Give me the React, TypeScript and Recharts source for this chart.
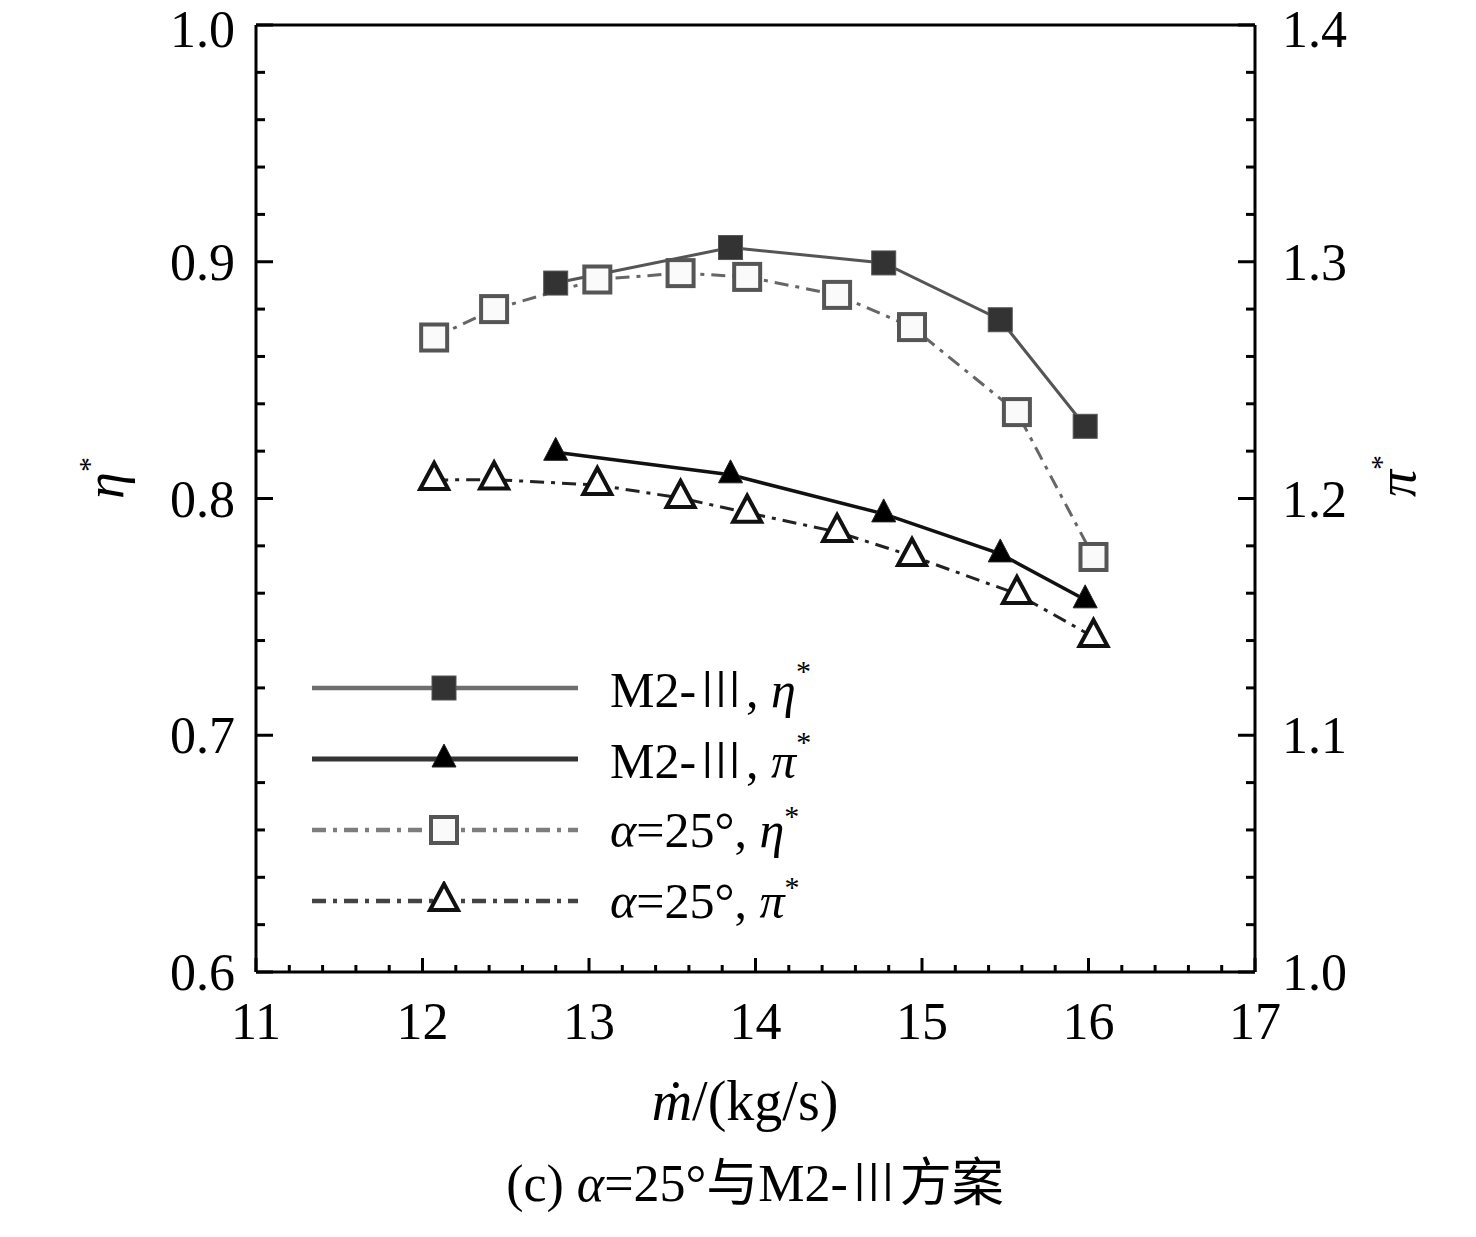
import React from 'react';
import { LineChart, Line, XAxis, YAxis, Legend, ReferenceLine } from 'recharts';

// mass flow (kg/s) and the two performance values
const m2Flow = [12.8, 13.85, 14.77, 15.47, 15.98];
const m2Eta = [0.891, 0.906, 0.8995, 0.8755, 0.8305];
const m2Pi = [1.2195, 1.21, 1.1935, 1.1766, 1.1572];

const a25Flow = [12.07, 12.43, 13.05, 13.55, 13.95, 14.49, 14.94, 15.57, 16.03];
const a25Eta = [0.868, 0.88, 0.8925, 0.8952, 0.8936, 0.886, 0.8724, 0.8365, 0.7753];
const a25Pi = [1.2078, 1.208, 1.2057, 1.2002, 1.194, 1.1859, 1.1757, 1.1597, 1.1415];

const xMajor = [11, 12, 13, 14, 15, 16, 17];
const etaMajor = [0.6, 0.7, 0.8, 0.9, 1.0];
const piMajor = [1.0, 1.1, 1.2, 1.3, 1.4];

const W = 1476;
const H = 1237;
const PLOT_LEFT = 256;
const PLOT_RIGHT = 1255;
const PLOT_TOP = 25;
const PLOT_BOTTOM = 972;

const SERIF = "'Liberation Serif', 'Times New Roman', 'Noto Sans CJK SC', serif";
const CJK = "'Noto Sans CJK SC', 'Noto Sans CJK JP', sans-serif";
const DASH_DOT = '14 7 4 7';
const TICK_FONT = 52;

const withMinor = (major: number[], steps: number) => {
  const out: number[] = [];
  for (let i = 0; i < major.length - 1; i++) {
    const step = (major[i + 1] - major[i]) / steps;
    for (let k = 0; k < steps; k++) out.push(+(major[i] + k * step).toFixed(4));
  }
  out.push(major[major.length - 1]);
  return out;
};

const xTicks = withMinor(xMajor, 5);
const etaTicks = withMinor(etaMajor, 5);
const piTicks = withMinor(piMajor, 5);

const isMajor = (v: number, list: number[]) => list.some((m) => Math.abs(m - v) < 1e-6);

const toPoints = (xs: number[], ys: number[]) => xs.map((x, i) => ({ x, y: ys[i] }));

type MarkerKind = 'square' | 'triangle' | 'openSquare' | 'openTriangle';

const Marker = ({ kind, cx, cy }: { kind: MarkerKind; cx: number; cy: number }) => {
  if (kind === 'square') {
    return <rect x={cx - 12} y={cy - 12} width={24} height={24} fill="#333" stroke="#555" strokeWidth={1} />;
  }
  if (kind === 'triangle') {
    return (
      <polygon
        points={`${cx},${cy - 15} ${cx - 12},${cy + 8} ${cx + 12},${cy + 8}`}
        fill="#000"
        stroke="#222"
        strokeWidth={1}
      />
    );
  }
  if (kind === 'openSquare') {
    return (
      <rect x={cx - 13} y={cy - 13} width={26} height={26} fill="#fafafa" stroke="#555" strokeWidth={4} />
    );
  }
  return (
    <polygon
      points={`${cx},${cy - 17} ${cx - 14},${cy + 9} ${cx + 14},${cy + 9}`}
      fill="#fff"
      stroke="#111"
      strokeWidth={4}
      strokeLinejoin="miter"
    />
  );
};

interface SeriesDef {
  id: string;
  label: React.ReactNode;
  stroke: string;
  width: number;
  dash?: string;
  marker: MarkerKind;
}

const sup = (s: string) => (
  <span style={{ fontSize: 30, verticalAlign: 'top', position: 'relative', top: -4 }}>{s}</span>
);

const roman3 = <span style={{ fontFamily: CJK, fontWeight: 300 }}>Ⅲ</span>;

const series: SeriesDef[] = [
  {
    id: 'm2Eta',
    label: <>M2-{roman3}, <i>η</i>{sup('*')}</>,
    stroke: '#555',
    width: 3,
    marker: 'square',
  },
  {
    id: 'm2Pi',
    label: <>M2-{roman3}, <i>π</i>{sup('*')}</>,
    stroke: '#111',
    width: 3.5,
    marker: 'triangle',
  },
  {
    id: 'a25Eta',
    label: <><i>α</i>=25°, <i>η</i>{sup('*')}</>,
    stroke: '#666',
    width: 3,
    dash: DASH_DOT,
    marker: 'openSquare',
  },
  {
    id: 'a25Pi',
    label: <><i>α</i>=25°, <i>π</i>{sup('*')}</>,
    stroke: '#222',
    width: 3,
    dash: DASH_DOT,
    marker: 'openTriangle',
  },
];

const seriesData: Record<string, { x: number; y: number }[]> = {
  m2Eta: toPoints(m2Flow, m2Eta),
  m2Pi: toPoints(m2Flow, m2Pi),
  a25Eta: toPoints(a25Flow, a25Eta),
  a25Pi: toPoints(a25Flow, a25Pi),
};

const seriesAxis: Record<string, string> = {
  m2Eta: 'eta',
  m2Pi: 'pi',
  a25Eta: 'eta',
  a25Pi: 'pi',
};

// baseline of a y tick label, kept far enough down that the top label stays on the page
const labelBaseline = (y: number) => Math.max(y + 18, 47);

const XTick = (props: any) => {
  const { x, payload } = props;
  const v = payload.value as number;
  const major = isMajor(v, xMajor);
  return (
    <g>
      <line x1={x} x2={x} y1={PLOT_BOTTOM} y2={PLOT_BOTTOM - (major ? 14 : 7)} stroke="#000" strokeWidth={3} />
      {major && (
        <text x={x} y={PLOT_BOTTOM + 67} textAnchor="middle" fontSize={TICK_FONT} fontFamily={SERIF} fill="#000">
          {v}
        </text>
      )}
    </g>
  );
};

const EtaTick = (props: any) => {
  const { y, payload } = props;
  const v = payload.value as number;
  const major = isMajor(v, etaMajor);
  return (
    <g>
      <line x1={PLOT_LEFT} x2={PLOT_LEFT + (major ? 17 : 9)} y1={y} y2={y} stroke="#000" strokeWidth={3} />
      {major && (
        <text
          x={PLOT_LEFT - 21}
          y={labelBaseline(y)}
          textAnchor="end"
          fontSize={TICK_FONT}
          fontFamily={SERIF}
          fill="#000"
        >
          {v.toFixed(1)}
        </text>
      )}
    </g>
  );
};

const PiTick = (props: any) => {
  const { y, payload } = props;
  const v = payload.value as number;
  const major = isMajor(v, piMajor);
  return (
    <g>
      <line x1={PLOT_RIGHT} x2={PLOT_RIGHT - (major ? 17 : 9)} y1={y} y2={y} stroke="#000" strokeWidth={3} />
      {major && (
        <text
          x={PLOT_RIGHT + 27}
          y={labelBaseline(y)}
          textAnchor="start"
          fontSize={TICK_FONT}
          fontFamily={SERIF}
          fill="#000"
        >
          {v.toFixed(1)}
        </text>
      )}
    </g>
  );
};

const LegendContent = (props: any) => {
  const payload = (props.payload || []) as any[];
  const names = payload.map((entry) => entry.value);
  const defs = series.filter((s) => names.includes(s.id));
  return (
    <div style={{ fontFamily: SERIF }}>
      {defs.map((def) => (
        <div key={def.id} style={{ display: 'flex', alignItems: 'center', height: 71 }}>
          <svg width={268} height={40} style={{ display: 'block' }}>
            <line
              x1={0}
              x2={266}
              y1={20}
              y2={20}
              stroke={def.stroke}
              strokeOpacity={0.85}
              strokeWidth={def.width + 1.5}
              strokeDasharray={def.dash}
            />
            <Marker kind={def.marker} cx={132} cy={20} />
          </svg>
          <span style={{ marginLeft: 30, fontSize: 50, lineHeight: 1, color: '#000', whiteSpace: 'nowrap' }}>
            {def.label}
          </span>
        </div>
      ))}
    </div>
  );
};

const textBox: React.CSSProperties = {
  position: 'absolute',
  fontFamily: SERIF,
  color: '#000',
  whiteSpace: 'nowrap',
  lineHeight: 1,
};

export default function App() {
  return (
    <div style={{ position: 'absolute', left: 0, top: 0, width: W, height: H, background: '#fff' }}>
      <LineChart width={W} height={H} margin={{ top: PLOT_TOP, right: 0, bottom: 0, left: 0 }}>
        <XAxis
          type="number"
          dataKey="x"
          domain={[11, 17]}
          ticks={xTicks}
          interval={0}
          height={H - PLOT_BOTTOM}
          axisLine={{ stroke: '#000', strokeWidth: 3 }}
          tickLine={false}
          tick={<XTick />}
          allowDuplicatedCategory={false}
        />
        <YAxis
          yAxisId="eta"
          type="number"
          domain={[0.6, 1.0]}
          ticks={etaTicks}
          interval={0}
          width={PLOT_LEFT}
          axisLine={{ stroke: '#000', strokeWidth: 3 }}
          tickLine={false}
          tick={<EtaTick />}
        />
        <YAxis
          yAxisId="pi"
          orientation="right"
          type="number"
          domain={[1.0, 1.4]}
          ticks={piTicks}
          interval={0}
          width={W - PLOT_RIGHT}
          axisLine={{ stroke: '#000', strokeWidth: 3 }}
          tickLine={false}
          tick={<PiTick />}
        />
        <ReferenceLine yAxisId="eta" y={1.0} stroke="#000" strokeWidth={3} />
        {series.map((s) => (
          <Line
            key={s.id}
            name={s.id}
            data={seriesData[s.id]}
            dataKey="y"
            yAxisId={seriesAxis[s.id]}
            type="linear"
            stroke={s.stroke}
            strokeWidth={s.width}
            strokeDasharray={s.dash}
            dot={(p: any) => <Marker key={`${s.id}-${p.index}`} kind={s.marker} cx={p.cx} cy={p.cy} />}
            activeDot={false}
            isAnimationActive={false}
          />
        ))}
        <Legend
          layout="vertical"
          align="center"
          verticalAlign="middle"
          content={<LegendContent />}
          wrapperStyle={{ left: 312, top: 652, width: 600, height: 290 }}
        />
      </LineChart>

      <div style={{ ...textBox, left: 105, top: 478, fontSize: 54, transform: 'translate(-50%, -50%) rotate(-90deg)' }}>
        <i>η</i>
        {sup('*')}
      </div>
      <div style={{ ...textBox, left: 1397, top: 476, fontSize: 54, transform: 'translate(-50%, -50%) rotate(-90deg)' }}>
        <i>π</i>
        {sup('*')}
      </div>
      <div style={{ ...textBox, left: 745, top: 1073, fontSize: 56, transform: 'translateX(-50%)' }}>
        <i>ṁ</i>/(kg/s)
      </div>
      <div style={{ ...textBox, left: 755, top: 1153, fontSize: 52, transform: 'translateX(-50%)' }}>
        (c) <i>α</i>=25°与M2-{roman3}方案
      </div>
    </div>
  );
}
